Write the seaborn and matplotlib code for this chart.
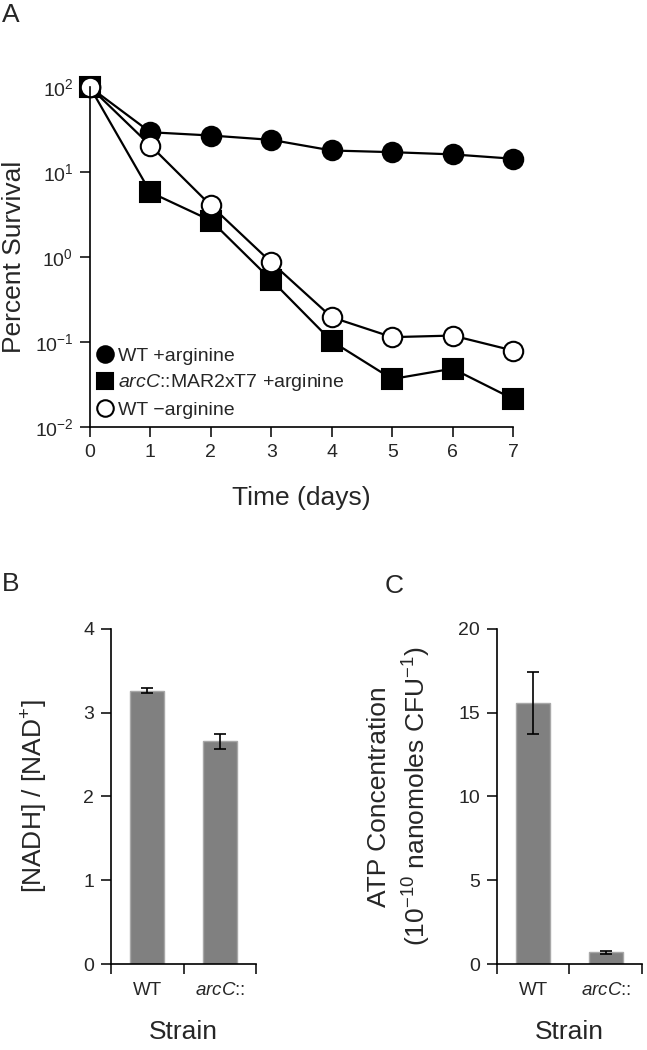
import matplotlib
matplotlib.use("Agg")
import matplotlib.pyplot as plt
import matplotlib.ticker as mticker
import seaborn as sns

# ---- data ----
days = [0, 1, 2, 3, 4, 5, 6, 7]
wt_arg = [100, 29.5, 27, 24, 18, 17.2, 16.2, 14.4]
arcc_arg = [100, 5.8, 2.7, 0.54, 0.103, 0.037, 0.049, 0.0216]
wt_noarg = [100, 20.6, 4.06, 0.87, 0.197, 0.115, 0.12, 0.08]

strains = ["WT", "arcC::"]
strain_labels = ["WT", r"$\mathit{arcC}$::"]
nadh_ratio = [3.26, 2.66]
nadh_err = [0.03, 0.09]
atp_conc = [15.6, 0.7]
atp_err = [1.85, 0.1]

# ---- style ----
sns.set_theme(style="ticks")
plt.rcParams['font.family'] = ['Liberation Sans', 'DejaVu Sans']
plt.rcParams['mathtext.fontset'] = 'custom'
plt.rcParams['mathtext.rm'] = 'Liberation Sans'
plt.rcParams['mathtext.it'] = 'Liberation Sans:italic'
plt.rcParams['mathtext.default'] = 'regular'
plt.rcParams['axes.linewidth'] = 1.2
plt.rcParams['axes.edgecolor'] = 'black'

fig = plt.figure(figsize=(6.47, 10.5), dpi=100)
ax_a = fig.add_axes([0.139, 0.593, 0.654, 0.324])
ax_b = fig.add_axes([0.1716, 0.0819, 0.2241, 0.3191])
ax_c = fig.add_axes([0.7677, 0.0819, 0.2246, 0.3191])

# ---- panel A: survival ----
series = [
    (wt_arg, "o", "black", "WT +arginine"),
    (arcc_arg, "s", "black", r"$\mathit{arcC}$::MAR2xT7 +arginine"),
    (wt_noarg, "o", "white", "WT \u2212arginine"),
]
for vals, mk, face, lab in series:
    sns.lineplot(x=days, y=vals, marker=mk, color="black", markerfacecolor=face,
                 markeredgecolor="black", markeredgewidth=1.5, markersize=14,
                 linewidth=1.6, label=lab, ax=ax_a, clip_on=False)

ax_a.set_yscale("log")
ax_a.set_ylim(1e-2, 1e2)
ax_a.set_xlim(0, 7)
ax_a.set_xticks(days)
ax_a.set_yticks([1e-2, 1e-1, 1e0, 1e1, 1e2])
ax_a.yaxis.set_minor_locator(mticker.NullLocator())
ax_a.tick_params(axis="both", labelsize=14, length=7, width=1.1, direction="out",
                 color="black", pad=5)
ax_a.set_xlabel("Time (days)", fontsize=19, labelpad=18)
ax_a.set_ylabel("Percent Survival", fontsize=19)
ax_a.yaxis.set_label_coords(-0.15, 0.5)
ax_a.legend(loc="lower left", bbox_to_anchor=(0.003, -0.015), frameon=False, fontsize=14,
            handlelength=0, handletextpad=0.7, labelspacing=0.4, markerscale=0.85,
            borderaxespad=0.3)
sns.despine(ax=ax_a)


def bar_panel(ax, vals, errs, ymax, yticks):
    sns.barplot(x=strains, y=vals, color="#808080", saturation=1, width=0.47,
                edgecolor="#a8a8a8", linewidth=1, errorbar=None, ax=ax)
    ax.errorbar([0, 1], vals, yerr=errs, fmt="none", ecolor="black",
                elinewidth=1.2, capsize=4, capthick=1.2)
    ax.set_xlim(-0.5, 1.5)
    ax.set_ylim(0, ymax)
    ax.set_yticks(yticks)
    ax.set_xticks([-0.5, 0.5, 1.5])
    ax.set_xticklabels([])
    ax.set_xticks([0, 1], minor=True)
    ax.set_xticklabels(strain_labels, minor=True)
    ax.tick_params(axis="x", which="minor", length=0, pad=13, labelsize=13.5)
    ax.tick_params(axis="x", which="major", length=7, width=1.1, color="black")
    ax.tick_params(axis="y", labelsize=14, length=7, width=1.1, color="black", pad=5)
    ax.set_xlabel("Strain", fontsize=19, labelpad=15)
    sns.despine(ax=ax)


# ---- panel B: NADH/NAD+ ----
bar_panel(ax_b, nadh_ratio, nadh_err, 4, [0, 1, 2, 3, 4])
ax_b.set_ylabel("[NADH] / [NAD$^{+}$]", fontsize=19)
ax_b.yaxis.set_label_coords(-0.42, 0.5)

# ---- panel C: ATP ----
bar_panel(ax_c, atp_conc, atp_err, 20, [0, 5, 10, 15, 20])
ax_c.set_ylabel("ATP Concentration\n(10$^{\u221210}$ nanomoles CFU$^{\u22121}$)",
                fontsize=19, linespacing=1.4)
ax_c.yaxis.set_label_coords(-0.44, 0.5)

# ---- panel letters ----
fig.text(0.003, 0.997, "A", fontsize=19, va="top", ha="left")
fig.text(0.003, 0.455, "B", fontsize=19, va="top", ha="left")
fig.text(0.594, 0.453, "C", fontsize=19, va="top", ha="left")

fig.savefig("out.png", dpi=100)
